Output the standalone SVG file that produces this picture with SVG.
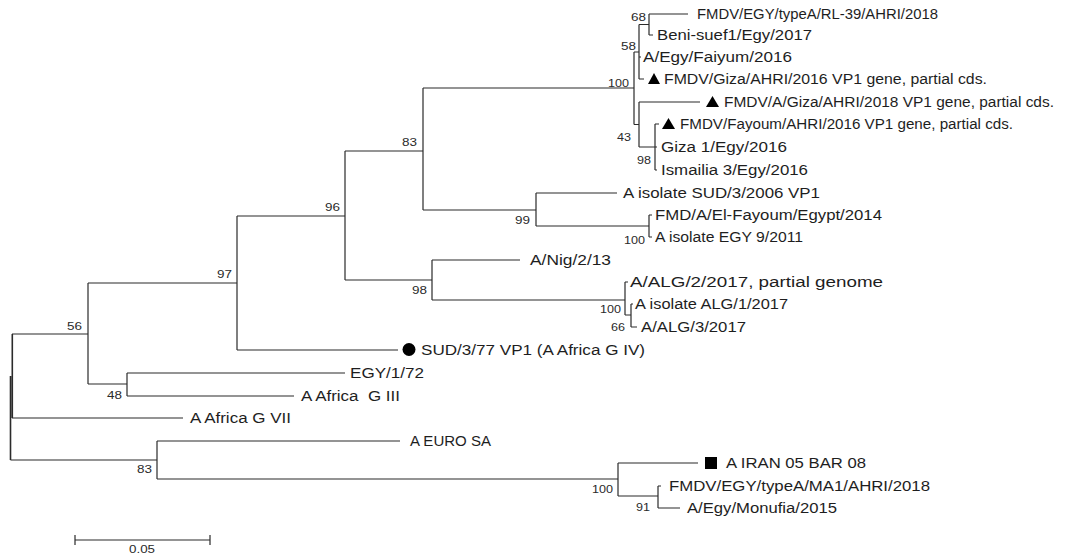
<svg xmlns="http://www.w3.org/2000/svg" width="1086" height="559" viewBox="0 0 1086 559">
<style>
.br{fill:none;stroke:#2b2b2b;stroke-width:1.2}
.lf{font-family:"Liberation Sans",Arial,sans-serif;font-size:14px;fill:#1e1e1e}
.bs{font-family:"Liberation Sans",Arial,sans-serif;font-size:11.5px;fill:#2a2a2a;text-anchor:end}
.mk{fill:#000}
</style>
<rect width="1086" height="559" fill="#fff"/>
<g id="connectors" class="br">
<path d="M10.5,376V460M12.3,334V418" style="stroke-width:1.6"/>
<path d="M12,334H88M12,418H183M10.5,460H157"/>
<path d="M88,283V384M88,283H237M88,384H127"/>
<path d="M127,373V396M127,373H345M127,396H294"/>
<path d="M237,216V350M237,350H398M237,216H345"/>
<path d="M345,151V280M345,151H423M345,280H432"/>
<path d="M423,88V210M423,88H634M423,210H536"/>
<path d="M536,193V226M536,193H617M536,226H649"/>
<path d="M649,215V237M649,215H652M649,237H652"/>
<path d="M432,260V300M432,260H520M432,300H625"/>
<path d="M625,282V315M625,282H628M625,315H631"/>
<path d="M631,304V327M631,304H633M631,327H637"/>
<path d="M634,52V124.5M634,52H639M634,124.5H639"/>
<path d="M639,24.5V79M639,24.5H649M639,57H641M639,79H644"/>
<path d="M649,14V35M649,14H688M649,35H653"/>
<path d="M639,102V147M639,102H700M639,147H655"/>
<path d="M655,124V170M655,124H659M655,147H657M655,170H657"/>
<path d="M157,441V479M157,441H400M157,479H618"/>
<path d="M618,463V496M618,463H698M618,496H658"/>
<path d="M658,486V508M658,486H661M658,508H680"/>
</g>
<g id="leaf-rl39"><text class="lf" x="697" y="19" textLength="241" lengthAdjust="spacingAndGlyphs">FMDV/EGY/typeA/RL-39/AHRI/2018</text></g>
<g id="leaf-benisuef"><text class="lf" x="657" y="40" textLength="155" lengthAdjust="spacingAndGlyphs">Beni-suef1/Egy/2017</text></g>
<g id="leaf-faiyum"><text class="lf" x="643" y="62" textLength="149" lengthAdjust="spacingAndGlyphs">A/Egy/Faiyum/2016</text></g>
<g id="leaf-giza2016"><polygon class="mk" points="648,84 654,73 660,84"/><text class="lf" x="664" y="84" textLength="323" lengthAdjust="spacingAndGlyphs">FMDV/Giza/AHRI/2016 VP1 gene, partial cds.</text></g>
<g id="leaf-giza2018"><polygon class="mk" points="706,107 712.5,96 719,107"/><text class="lf" x="724" y="107" textLength="330" lengthAdjust="spacingAndGlyphs">FMDV/A/Giza/AHRI/2018 VP1 gene, partial cds.</text></g>
<g id="leaf-fayoum"><polygon class="mk" points="662,129 668.5,118 675,129"/><text class="lf" x="680" y="129" textLength="333" lengthAdjust="spacingAndGlyphs">FMDV/Fayoum/AHRI/2016 VP1 gene, partial cds.</text></g>
<g id="leaf-giza1"><text class="lf" x="661" y="152" textLength="126" lengthAdjust="spacingAndGlyphs">Giza 1/Egy/2016</text></g>
<g id="leaf-ismailia"><text class="lf" x="661" y="175" textLength="147" lengthAdjust="spacingAndGlyphs">Ismailia 3/Egy/2016</text></g>
<g id="leaf-sud2006"><text class="lf" x="623" y="198" textLength="197" lengthAdjust="spacingAndGlyphs">A isolate SUD/3/2006 VP1</text></g>
<g id="leaf-elfayoum"><text class="lf" x="655" y="220" textLength="227" lengthAdjust="spacingAndGlyphs">FMD/A/El-Fayoum/Egypt/2014</text></g>
<g id="leaf-egy2011"><text class="lf" x="655" y="242" textLength="148" lengthAdjust="spacingAndGlyphs">A isolate EGY 9/2011</text></g>
<g id="leaf-nig"><text class="lf" x="530" y="265" textLength="81" lengthAdjust="spacingAndGlyphs">A/Nig/2/13</text></g>
<g id="leaf-alg2"><text class="lf" x="630" y="287" textLength="253" lengthAdjust="spacingAndGlyphs">A/ALG/2/2017, partial genome</text></g>
<g id="leaf-alg1"><text class="lf" x="635" y="309" textLength="153" lengthAdjust="spacingAndGlyphs">A isolate ALG/1/2017</text></g>
<g id="leaf-alg3"><text class="lf" x="641" y="332" textLength="105" lengthAdjust="spacingAndGlyphs">A/ALG/3/2017</text></g>
<g id="leaf-sud77"><circle class="mk" cx="409" cy="349.5" r="6.5"/><text class="lf" x="421" y="355" textLength="224" lengthAdjust="spacingAndGlyphs">SUD/3/77 VP1 (A Africa G IV)</text></g>
<g id="leaf-egy72"><text class="lf" x="350" y="378" textLength="74" lengthAdjust="spacingAndGlyphs">EGY/1/72</text></g>
<g id="leaf-g3"><text class="lf" x="301" y="401" textLength="99" lengthAdjust="spacingAndGlyphs" xml:space="preserve">A Africa  G III</text></g>
<g id="leaf-g7"><text class="lf" x="190" y="423" textLength="101" lengthAdjust="spacingAndGlyphs">A Africa G VII</text></g>
<g id="leaf-euro"><text class="lf" x="410" y="446" textLength="81" lengthAdjust="spacingAndGlyphs">A EURO SA</text></g>
<g id="leaf-iran"><rect class="mk" x="705" y="457" width="12" height="12"/><text class="lf" x="726" y="468" textLength="140" lengthAdjust="spacingAndGlyphs">A IRAN 05 BAR 08</text></g>
<g id="leaf-ma1"><text class="lf" x="669" y="491" textLength="261" lengthAdjust="spacingAndGlyphs">FMDV/EGY/typeA/MA1/AHRI/2018</text></g>
<g id="leaf-monufia"><text class="lf" x="687" y="513" textLength="150" lengthAdjust="spacingAndGlyphs">A/Egy/Monufia/2015</text></g>
<g id="support-values">
<text class="bs" x="646" y="21" textLength="15" lengthAdjust="spacingAndGlyphs">68</text>
<text class="bs" x="636" y="50" textLength="15" lengthAdjust="spacingAndGlyphs">58</text>
<text class="bs" x="629" y="87" textLength="21" lengthAdjust="spacingAndGlyphs">100</text>
<text class="bs" x="631" y="141" textLength="14" lengthAdjust="spacingAndGlyphs">43</text>
<text class="bs" x="651" y="164" textLength="14" lengthAdjust="spacingAndGlyphs">98</text>
<text class="bs" x="417" y="146" textLength="15" lengthAdjust="spacingAndGlyphs">83</text>
<text class="bs" x="340" y="211" textLength="15" lengthAdjust="spacingAndGlyphs">96</text>
<text class="bs" x="530" y="224" textLength="15" lengthAdjust="spacingAndGlyphs">99</text>
<text class="bs" x="645" y="244" textLength="21" lengthAdjust="spacingAndGlyphs">100</text>
<text class="bs" x="427" y="294" textLength="15" lengthAdjust="spacingAndGlyphs">98</text>
<text class="bs" x="621" y="313" textLength="21" lengthAdjust="spacingAndGlyphs">100</text>
<text class="bs" x="625" y="331" textLength="14" lengthAdjust="spacingAndGlyphs">66</text>
<text class="bs" x="232" y="278" textLength="15" lengthAdjust="spacingAndGlyphs">97</text>
<text class="bs" x="82" y="330" textLength="15" lengthAdjust="spacingAndGlyphs">56</text>
<text class="bs" x="122" y="399" textLength="15" lengthAdjust="spacingAndGlyphs">48</text>
<text class="bs" x="152" y="473" textLength="15" lengthAdjust="spacingAndGlyphs">83</text>
<text class="bs" x="613" y="493" textLength="21" lengthAdjust="spacingAndGlyphs">100</text>
<text class="bs" x="650" y="511" textLength="14" lengthAdjust="spacingAndGlyphs">91</text>
</g>
<g id="scale-bar">
<path class="br" d="M75,540H210M75,535V545M210,535V545"/>
<text class="bs" x="155" y="553" textLength="26" lengthAdjust="spacingAndGlyphs">0.05</text>
</g>
</svg>
